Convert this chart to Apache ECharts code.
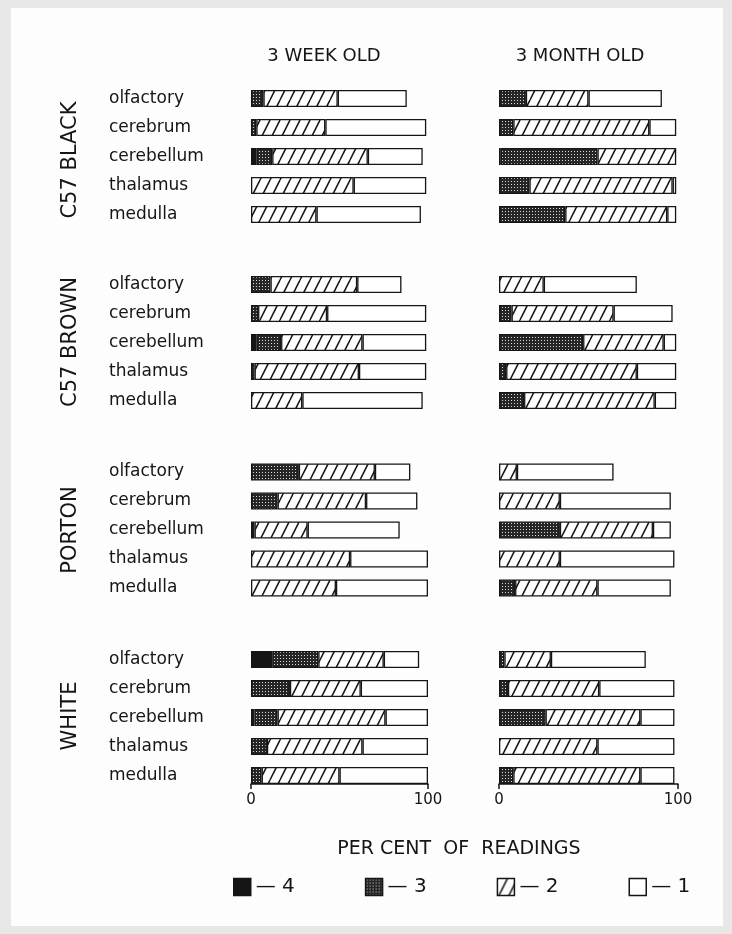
<!DOCTYPE html>
<html>
<head>
<meta charset="utf-8">
<script src="https://cdn.jsdelivr.net/npm/echarts@6/dist/echarts.min.js"></script>
<style>
  html, body { margin: 0; padding: 0; background: #e8e8e8; }
  #chart { width: 732px; height: 934px; }
</style>
</head>
<body>
<div id="chart"></div>
<script>
// Brain regions (rows) and strains (blocks of rows)
const regions = ['olfactory', 'cerebrum', 'cerebellum', 'thalamus', 'medulla'];
const strains = ['C57 BLACK', 'C57 BROWN', 'PORTON', 'WHITE'];
const ages = ['3 WEEK OLD', '3 MONTH OLD'];
const grades = ['4', '3', '2', '1'];
const tickLabels = ['0', '100'];

// Per cent of readings by grade, one row per region: [grade 4, grade 3, grade 2, grade 1]
const weekBlack = [[0, 7, 42, 39], [0, 3, 39, 57], [3, 9, 54, 31], [0, 0, 58, 41], [0, 0, 37, 59]];
const weekBrown = [[0, 11, 49, 25], [0, 4, 39, 56], [3, 14, 46, 36], [0, 2, 59, 38], [0, 0, 29, 68]];
const weekPorton = [[0, 27, 43, 20], [0, 15, 50, 29], [2, 0, 30, 52], [0, 0, 56, 44], [0, 0, 48, 52]];
const weekWhite = [[12, 26, 37, 20], [0, 22, 40, 38], [2, 13, 61, 24], [0, 9, 54, 37], [0, 6, 44, 50]];

const monthBlack = [[0, 15, 35, 41], [0, 8, 76, 15], [1, 54, 44, 0], [0, 17, 80, 2], [0, 37, 57, 5]];
const monthBrown = [[0, 0, 25, 52], [0, 7, 57, 33], [0, 47, 45, 7], [0, 4, 73, 22], [0, 14, 73, 12]];
const monthPorton = [[0, 0, 10, 54], [0, 0, 34, 62], [0, 34, 52, 10], [0, 0, 34, 64], [0, 9, 46, 41]];
const monthWhite = [[0, 3, 26, 53], [0, 5, 51, 42], [0, 26, 53, 19], [0, 0, 55, 43], [0, 8, 71, 19]];

const tables = [
  [weekBlack, weekBrown, weekPorton, weekWhite],
  [monthBlack, monthBrown, monthPorton, monthWhite]
];

const INK = '#151515';
const FONT = 'DejaVu Sans';

// Fill patterns for the grades
function makeTile(w, h, draw) {
  const c = document.createElement('canvas');
  c.width = w; c.height = h;
  draw(c.getContext('2d'));
  return c;
}
const stipple = makeTile(3, 3, ctx => {
  ctx.fillStyle = '#262626';
  ctx.fillRect(0, 0, 3, 3);
  ctx.fillStyle = '#d8d8d8';
  ctx.fillRect(1, 1, 1, 1);
});
const hatch = makeTile(10, 20, ctx => {
  ctx.fillStyle = '#ffffff';
  ctx.fillRect(0, 0, 10, 20);
  ctx.strokeStyle = INK;
  ctx.lineWidth = 1.5;
  [-10, 0, 10].forEach(dx => {
    ctx.beginPath();
    ctx.moveTo(dx, 20);
    ctx.lineTo(dx + 10, 0);
    ctx.stroke();
  });
});
const fills = {
  '4': INK,
  '3': { image: stipple, repeat: 'repeat' },
  '2': { image: hatch, repeat: 'repeat' },
  '1': '#ffffff'
};

// Panel geometry
const panelLeft = [251, 499];
const panelWidth = [177, 179];
const blockTop = [84, 270, 457.5, 645];
const blockHeight = 145;

const grid = [], xAxis = [], yAxis = [], series = [];
ages.forEach((age, a) => {
  strains.forEach((strain, s) => {
    const idx = a * strains.length + s;
    grid.push({ left: panelLeft[a], width: panelWidth[a], top: blockTop[s], height: blockHeight });
    const bottomBlock = s === strains.length - 1;
    xAxis.push({
      type: 'value', gridIndex: idx, min: 0, max: 100, interval: 100,
      show: bottomBlock, offset: -6,
      splitLine: { show: false },
      axisLine: { show: true, lineStyle: { color: INK, width: 1.5 } },
      axisTick: { show: true, length: 5, lineStyle: { color: INK, width: 1.5 } },
      axisLabel: {
        margin: 9, fontSize: 15, fontFamily: FONT, color: INK,
        formatter: v => (v === 0 ? tickLabels[0] : v === 100 ? tickLabels[1] : '')
      }
    });
    yAxis.push({
      type: 'category', gridIndex: idx, data: regions, inverse: true,
      axisLine: { show: false }, axisTick: { show: false },
      axisLabel: {
        show: a === 0, align: 'left', margin: 142,
        fontSize: 17, fontFamily: FONT, color: INK
      }
    });
    const rows = tables[a][s];
    grades.forEach((g, gi) => {
      series.push({
        type: 'bar', name: g, stack: 'block' + idx,
        xAxisIndex: idx, yAxisIndex: idx,
        barWidth: 17,
        itemStyle: { color: fills[g], borderColor: INK, borderWidth: 1.3 },
        data: rows.map(r => (r[gi] === 0 ? '-' : r[gi]))
      });
    });
  });
});

const graphic = [
  { type: 'rect', z: -10, shape: { x: 11, y: 8, width: 712, height: 918 }, style: { fill: '#fdfdfd' } },
  { type: 'text', x: 324, y: 56, style: { text: ages[0], fontSize: 18, fontFamily: FONT, fill: INK, align: 'center', verticalAlign: 'middle' } },
  { type: 'text', x: 580, y: 56, style: { text: ages[1], fontSize: 18, fontFamily: FONT, fill: INK, align: 'center', verticalAlign: 'middle' } },
  { type: 'text', x: 459, y: 849, style: { text: 'PER CENT  OF  READINGS', fontSize: 19, fontFamily: FONT, fill: INK, align: 'center', verticalAlign: 'middle' } }
];
const strainLabelY = [160, 342, 530, 716];
strains.forEach((s, i) => {
  graphic.push({
    type: 'text', x: 71, y: strainLabelY[i], rotation: Math.PI / 2,
    style: { text: s, fontSize: 21, fontFamily: FONT, fill: INK, align: 'center', verticalAlign: 'middle' }
  });
});

const chart = echarts.init(document.getElementById('chart'), null, { renderer: 'canvas' });
chart.setOption({
  backgroundColor: '#e8e8e8',
  animation: false,
  grid, xAxis, yAxis, series, graphic,
  legend: {
    data: grades, left: 228, top: 872,
    icon: 'rect', itemWidth: 17, itemHeight: 17, itemGap: 70,
    itemStyle: { borderColor: INK, borderWidth: 1.5 },
    formatter: name => '\u2014 ' + name,
    textStyle: { fontSize: 20, fontFamily: FONT, color: INK },
    selectedMode: false
  }
});
</script>
</body>
</html>
